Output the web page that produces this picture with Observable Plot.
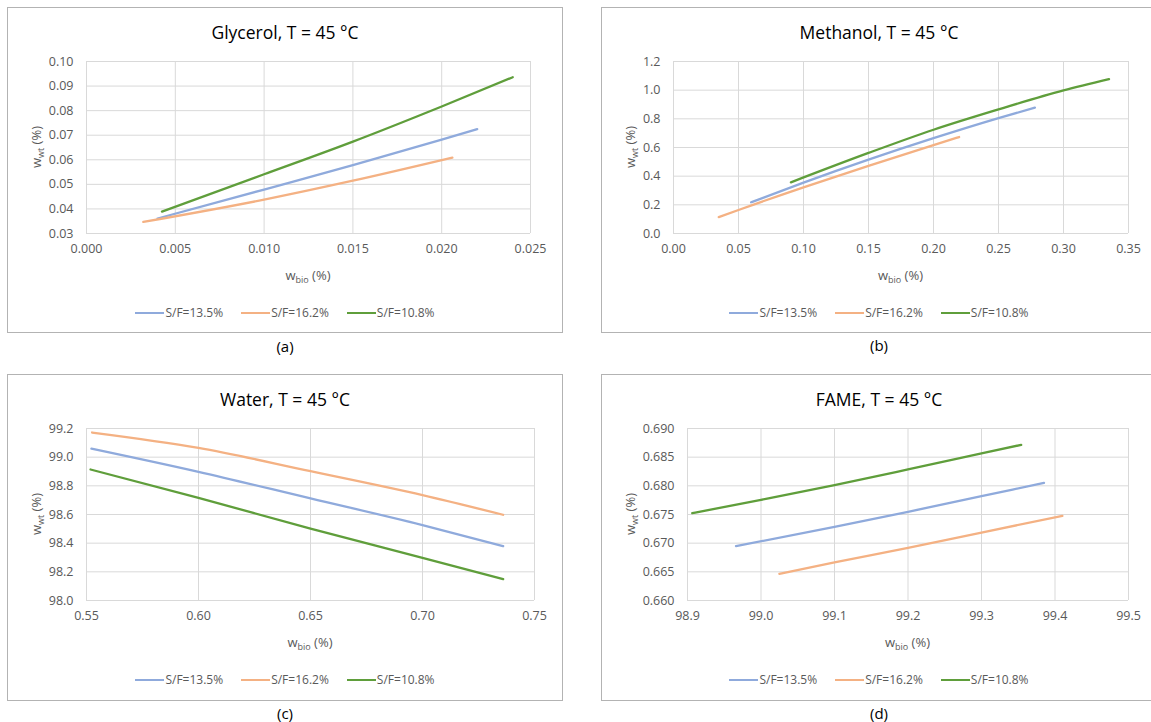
<!DOCTYPE html>
<html><head><meta charset="utf-8">
<script src="https://cdn.jsdelivr.net/npm/d3@7"></script>
<script src="https://cdn.jsdelivr.net/npm/@observablehq/plot@0.6"></script>
<style>
html,body{margin:0;padding:0;background:#fff;overflow:hidden}
#root{position:relative;width:1151px;height:722px;overflow:hidden;font-family:"Open Sans",sans-serif;background:#fff}
.panel{position:absolute}
.border{position:absolute;left:0;top:0;right:0;bottom:0;border:1px solid #b3b3b3;box-sizing:border-box}
.panel svg{position:absolute;left:0;top:0}
.title{position:absolute;left:0;width:100%;text-align:center;top:13px;font-size:17.5px;line-height:24px;color:#000}
.legend{position:absolute;left:0;width:100%;top:297px;display:flex;justify-content:center;gap:18px;font-size:12px;color:#595959;line-height:18px}
.legend .sw{display:inline-block;width:29px;height:2px;vertical-align:middle;margin-right:1px;position:relative;top:-1px}
.xlab,.ylab{position:absolute;font-size:13px;color:#595959;white-space:nowrap;line-height:16px}
.xlab{transform:translate(-50%,-50%)}
.ylab{transform:translate(-50%,-50%) rotate(-90deg)}
sub{font-size:9px;vertical-align:-3px;line-height:0}
.plabel{position:absolute;font-size:15px;color:#000;transform:translate(-50%,-50%);line-height:18px}
</style></head>
<body><div id="root"></div>
<script>
// ---- data ----
const seriesNames = ["S/F=13.5%", "S/F=16.2%", "S/F=10.8%"];

const glycerol135 = [[0.0040,0.0361],[0.010,0.0479],[0.015,0.0578],[0.020,0.0682],[0.0220,0.0725]];
const glycerol162 = [[0.0032,0.0347],[0.010,0.0438],[0.015,0.0515],[0.0206,0.0609]];
const glycerol108 = [[0.00425,0.0389],[0.010,0.0541],[0.015,0.0674],[0.020,0.0817],[0.0240,0.0936]];

const methanol135 = [[0.0597,0.218],[0.10,0.355],[0.15,0.515],[0.20,0.665],[0.25,0.805],[0.278,0.878]];
const methanol162 = [[0.0348,0.114],[0.05,0.164],[0.10,0.322],[0.15,0.472],[0.20,0.617],[0.2197,0.673]];
const methanol108 = [[0.0903,0.357],[0.15,0.562],[0.20,0.724],[0.25,0.866],[0.30,0.998],[0.335,1.077]];

const water135 = [[0.5522,99.060],[0.60,98.898],[0.65,98.712],[0.70,98.526],[0.736,98.379]];
const water162 = [[0.5525,99.172],[0.60,99.065],[0.65,98.902],[0.70,98.735],[0.736,98.598]];
const water108 = [[0.5518,98.914],[0.60,98.716],[0.65,98.502],[0.70,98.298],[0.736,98.149]];

const fame135 = [[98.966,0.66948],[99.1,0.67285],[99.2,0.67547],[99.3,0.6782],[99.385,0.68052]];
const fame162 = [[99.025,0.66465],[99.1,0.66663],[99.2,0.66919],[99.3,0.67186],[99.41,0.67477]];
const fame108 = [[98.9065,0.67523],[99.0,0.67756],[99.1,0.68012],[99.2,0.68285],[99.3,0.68564],[99.354,0.68715]];

const glycerolXTicks = [0, 0.005, 0.010, 0.015, 0.020, 0.025];
const glycerolYTicks = [0.03, 0.04, 0.05, 0.06, 0.07, 0.08, 0.09, 0.10];
const methanolXTicks = [0, 0.05, 0.10, 0.15, 0.20, 0.25, 0.30, 0.35];
const methanolYTicks = [0, 0.2, 0.4, 0.6, 0.8, 1.0, 1.2];
const waterXTicks = [0.55, 0.60, 0.65, 0.70, 0.75];
const waterYTicks = [98.0, 98.2, 98.4, 98.6, 98.8, 99.0, 99.2];
const fameXTicks = [98.9, 99.0, 99.1, 99.2, 99.3, 99.4, 99.5];
const fameYTicks = [0.660, 0.665, 0.670, 0.675, 0.680, 0.685, 0.690];

const titles = ["Glycerol, T = 45 °C", "Methanol, T = 45 °C", "Water, T = 45 °C", "FAME, T = 45 °C"];
const panelLabels = ["(a)", "(b)", "(c)", "(d)"];

// ---- style ----
const seriesColors = ["#8faadc", "#f4b183", "#5f9e3b"];

const panels = [
  {title: titles[0], label: panelLabels[0], data: [glycerol135, glycerol162, glycerol108],
   xt: glycerolXTicks, yt: glycerolYTicks, xf: ".3f", yf: ".2f",
   left: 7, top: 7, w: 556, h: 326, ml: 79, mr: 33, mt: 54, mb: 100, lx: 285, ly: 346},
  {title: titles[1], label: panelLabels[1], data: [methanol135, methanol162, methanol108],
   xt: methanolXTicks, yt: methanolYTicks, xf: ".2f", yf: ".1f",
   left: 601, top: 7, w: 556, h: 326, ml: 72, mr: 29, mt: 54, mb: 100, lx: 879, ly: 345},
  {title: titles[2], label: panelLabels[2], data: [water135, water162, water108],
   xt: waterXTicks, yt: waterYTicks, xf: ".2f", yf: ".1f",
   left: 7, top: 374, w: 556, h: 327, ml: 79, mr: 29, mt: 54, mb: 101, lx: 285, ly: 713},
  {title: titles[3], label: panelLabels[3], data: [fame135, fame162, fame108],
   xt: fameXTicks, yt: fameYTicks, xf: ".1f", yf: ".3f",
   left: 601, top: 374, w: 556, h: 327, ml: 86, mr: 29, mt: 54, mb: 101, lx: 879, ly: 713}
];

const root = document.getElementById("root");

for (const p of panels) {
  const rows = [];
  p.data.forEach((arr, i) => arr.forEach(([x, y]) => rows.push({s: seriesNames[i], x, y})));
  const div = document.createElement("div");
  div.className = "panel";
  div.style.left = p.left + "px"; div.style.top = p.top + "px";
  div.style.width = p.w + "px"; div.style.height = p.h + "px";
  const border = document.createElement("div"); border.className = "border"; div.appendChild(border);

  const chart = Plot.plot({
    width: p.w, height: p.h,
    marginLeft: p.ml, marginRight: p.mr, marginTop: p.mt, marginBottom: p.mb,
    style: {fontFamily: '"Open Sans", sans-serif', fontSize: "12.5px", color: "#595959", background: "transparent", overflow: "visible"},
    x: {domain: [p.xt[0], p.xt[p.xt.length - 1]], axis: null},
    y: {domain: [p.yt[0], p.yt[p.yt.length - 1]], axis: null},
    color: {domain: seriesNames, range: seriesColors},
    marks: [
      Plot.gridX(p.xt, {stroke: "#d9d9d9", strokeOpacity: 1, strokeWidth: 1}),
      Plot.gridY(p.yt, {stroke: "#d9d9d9", strokeOpacity: 1, strokeWidth: 1}),
      Plot.axisX(p.xt, {tickSize: 0, tickPadding: 11, tickFormat: d3.format(p.xf), label: null, fill: "#595959"}),
      Plot.axisY(p.yt, {tickSize: 0, tickPadding: 13, tickFormat: d3.format(p.yf), label: null, fill: "#595959"}),
      Plot.line(rows, {x: "x", y: "y", z: "s", stroke: "s", strokeWidth: 2.3, curve: "monotone-x"})
    ]
  });
  div.appendChild(chart);

  const t = document.createElement("div"); t.className = "title"; t.textContent = p.title; div.appendChild(t);

  const xl = document.createElement("div"); xl.className = "xlab";
  xl.innerHTML = "w<sub>bio</sub> (%)";
  xl.style.left = (p.ml + (p.w - p.ml - p.mr) / 2) + "px"; xl.style.top = "268px";
  div.appendChild(xl);

  const yl = document.createElement("div"); yl.className = "ylab";
  yl.innerHTML = "w<sub>wt</sub> (%)";
  yl.style.left = "29px"; yl.style.top = (p.mt + (p.h - p.mt - p.mb) / 2) + "px";
  div.appendChild(yl);

  const lg = document.createElement("div"); lg.className = "legend";
  seriesNames.forEach((n, i) => {
    const it = document.createElement("span");
    it.innerHTML = `<span class="sw" style="background:${seriesColors[i]}"></span>${n}`;
    lg.appendChild(it);
  });
  div.appendChild(lg);
  root.appendChild(div);

  const pl = document.createElement("div"); pl.className = "plabel";
  pl.textContent = p.label; pl.style.left = p.lx + "px"; pl.style.top = p.ly + "px";
  root.appendChild(pl);
}
</script></body></html>
